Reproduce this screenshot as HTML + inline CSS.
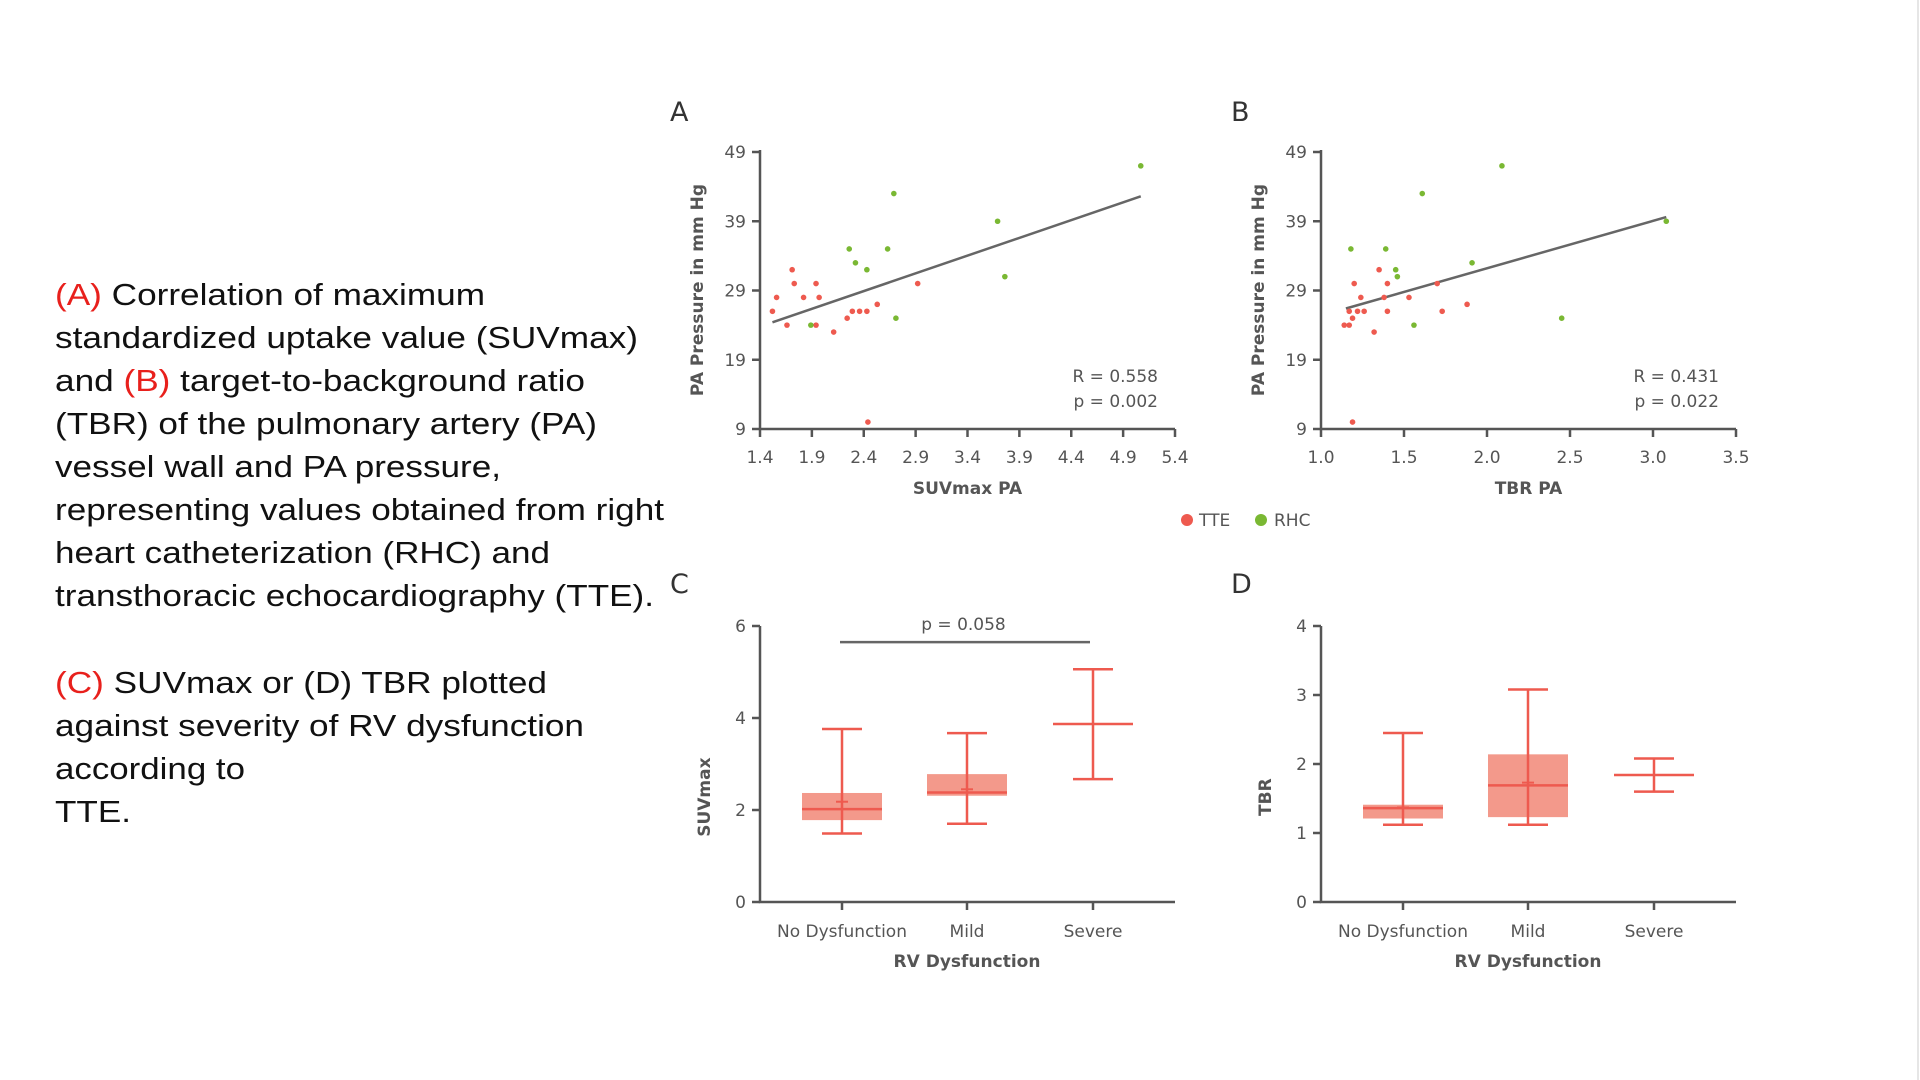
<!DOCTYPE html>
<html><head><meta charset="utf-8">
<style>
html,body{margin:0;padding:0;background:#fff;}
svg{display:block;}
.cap{font-family:"Liberation Sans",Arial,sans-serif;font-size:31px;fill:#111;}
.red{fill:#e8201c;}
.ax{stroke:#555;stroke-width:2.5;fill:none;}
.tk{font-family:"DejaVu Sans","Liberation Sans",sans-serif;font-size:17px;fill:#555;}
.ttl{font-family:"DejaVu Sans","Liberation Sans",sans-serif;font-size:17px;font-weight:bold;fill:#555;}
.lt{font-family:"DejaVu Sans","Liberation Sans",sans-serif;font-size:27px;fill:#333;}
</style></head>
<body>
<svg id="fig" width="1920" height="1080" viewBox="0 0 1920 1080">
<line x1="1918" y1="0" x2="1918" y2="1080" stroke="#e6e6e6" stroke-width="2"/>
<g>
<text class="cap" x="55" y="305" textLength="430" lengthAdjust="spacingAndGlyphs"><tspan class="red">(A)</tspan> Correlation of maximum</text>
<text class="cap" x="55" y="348" textLength="583" lengthAdjust="spacingAndGlyphs">standardized uptake value (SUVmax)</text>
<text class="cap" x="55" y="391" textLength="530" lengthAdjust="spacingAndGlyphs">and <tspan class="red">(B)</tspan> target-to-background ratio</text>
<text class="cap" x="55" y="434" textLength="542" lengthAdjust="spacingAndGlyphs">(TBR) of the pulmonary artery (PA)</text>
<text class="cap" x="55" y="477" textLength="446" lengthAdjust="spacingAndGlyphs">vessel wall and PA pressure,</text>
<text class="cap" x="55" y="520" textLength="609" lengthAdjust="spacingAndGlyphs">representing values obtained from right</text>
<text class="cap" x="55" y="563" textLength="495" lengthAdjust="spacingAndGlyphs">heart catheterization (RHC) and</text>
<text class="cap" x="55" y="606" textLength="599" lengthAdjust="spacingAndGlyphs">transthoracic echocardiography (TTE).</text>
<text class="cap" x="55" y="693" textLength="492" lengthAdjust="spacingAndGlyphs"><tspan class="red">(C)</tspan> SUVmax or (D) TBR plotted</text>
<text class="cap" x="55" y="736" textLength="529" lengthAdjust="spacingAndGlyphs">against severity of RV dysfunction</text>
<text class="cap" x="55" y="779" textLength="190" lengthAdjust="spacingAndGlyphs">according to</text>
<text class="cap" x="55" y="822" textLength="76" lengthAdjust="spacingAndGlyphs">TTE.</text>
</g>
<g id="plots"></g>
</svg>
<script>
// ---- Panel A data ----
const aTteX = [1.52,1.56,1.66,1.71,1.73,1.82,1.94,1.94,1.97,2.11,2.24,2.29,2.36,2.43,2.53,2.92,2.44];
const aTteY = [26,28,24,32,30,28,30,24,28,23,25,26,26,26,27,30,10];
const aRhcX = [1.89,2.26,2.32,2.43,2.63,2.69,2.71,3.69,3.76,5.07];
const aRhcY = [24,35,33,32,35,43,25,39,31,47];
const aFitX = [1.52,5.07];
const aFitY = [24.4,42.6];
const aXTicks = [1.4,1.9,2.4,2.9,3.4,3.9,4.4,4.9,5.4];
// ---- Panel B data ----
const bTteX = [1.14,1.17,1.17,1.19,1.20,1.22,1.24,1.26,1.32,1.35,1.38,1.40,1.40,1.53,1.70,1.73,1.88,1.19];
const bTteY = [24,24,26,25,30,26,28,26,23,32,28,30,26,28,30,26,27,10];
const bRhcX = [1.18,1.39,1.45,1.46,1.56,1.61,1.91,2.09,2.45,3.08];
const bRhcY = [35,35,32,31,24,43,33,47,25,39];
const bFitX = [1.15,3.08];
const bFitY = [26.4,39.6];
const bXTicks = [1.0,1.5,2.0,2.5,3.0,3.5];
const bXLabels = ["1.0","1.5","2.0","2.5","3.0","3.5"];
const pYTicks = [9,19,29,39,49];
// ---- Panel C/D data ----
const categories = ["No Dysfunction","Mild","Severe"];
const cWhiskLo = [1.49,1.70,2.67];
const cQ1 = [1.78,2.31,null];
const cMedian = [2.02,2.38,3.87];
const cQ3 = [2.37,2.78,null];
const cWhiskHi = [3.76,3.67,5.06];
const cMean = [2.18,2.45,null];
const cYTicks = [0,2,4,6];
const dWhiskLo = [1.12,1.12,1.60];
const dQ1 = [1.21,1.23,null];
const dMedian = [1.36,1.69,1.84];
const dQ3 = [1.41,2.14,null];
const dWhiskHi = [2.45,3.08,2.08];
const dMean = [1.37,1.73,null];
const dYTicks = [0,1,2,3,4];

const NS="http://www.w3.org/2000/svg";
const root=document.getElementById('plots');
function mk(tag,attrs,parent,txt){const e=document.createElementNS(NS,tag);for(const k in attrs)e.setAttribute(k,attrs[k]);if(txt!==undefined)e.textContent=txt;(parent||root).appendChild(e);return e;}
function lin(d0,d1,r0,r1){return v=>r0+(v-d0)/(d1-d0)*(r1-r0);}
const RED="#ee5a4f", GREEN="#7ab833", FILL="#f3998b";

function scatter(px0,px1,xmin,xmax,xt,xl,xtitle,tteX,tteY,rhcX,rhcY,fitX,fitY,rtxt,ptxt,letter){
  const g=mk('g',{});
  
  
  const x=lin(xmin,xmax,px0,px1), y=lin(9,49,429,152);
  const L=mk('text',{x:px0-90,y:121,class:'lt'},g,letter);
  
  const ax=mk('path',{d:`M${px0},150 V429 H${px1}`,class:'ax'},g);
  
  pYTicks.forEach(v=>{mk('line',{x1:px0-8,x2:px0,y1:y(v),y2:y(v),class:'ax'},g);
    const t=mk('text',{x:px0-14,y:y(v)+6,class:'tk','text-anchor':'end'},g,String(v));
    });
  xt.forEach((v,i)=>{mk('line',{x1:x(v),x2:x(v),y1:429,y2:437,class:'ax'},g);
    const t=mk('text',{x:x(v),y:463,class:'tk','text-anchor':'middle'},g,xl?xl[i]:String(v));
    });
  const yt=mk('text',{x:0,y:0,class:'ttl','text-anchor':'middle',transform:`translate(${px0-57},290) rotate(-90)`},g,'PA Pressure in mm Hg');
  
  const xtt=mk('text',{x:(px0+px1)/2,y:494,class:'ttl','text-anchor':'middle'},g,xtitle);
  
  const fl=mk('line',{x1:x(fitX[0]),y1:y(fitY[0]),x2:x(fitX[1]),y2:y(fitY[1]),stroke:'#666','stroke-width':2.5},g);
  
  tteX.forEach((v,i)=>{const c=mk('circle',{cx:x(v),cy:y(tteY[i]),r:2.8,fill:RED},g);
    });
  rhcX.forEach((v,i)=>{const c=mk('circle',{cx:x(v),cy:y(rhcY[i]),r:2.8,fill:GREEN},g);
    });
  const r=mk('text',{x:px1-17,y:382,class:'tk','text-anchor':'end'},g,rtxt);
  
  const p=mk('text',{x:px1-17,y:407,class:'tk','text-anchor':'end'},g,ptxt);
  
}
scatter(760,1175,1.4,5.4,aXTicks,null,'SUVmax PA',aTteX,aTteY,aRhcX,aRhcY,aFitX,aFitY,'R = 0.558','p = 0.002','A');
scatter(1321,1736,1.0,3.5,bXTicks,bXLabels,'TBR PA',bTteX,bTteY,bRhcX,bRhcY,bFitX,bFitY,'R = 0.431','p = 0.022','B');

// legend
const lg=mk('g',{});

const l1=mk('circle',{cx:1187,cy:520,r:6,fill:RED},lg);

const l2=mk('text',{x:1199,y:526,class:'tk'},lg,'TTE');

const l3=mk('circle',{cx:1261,cy:520,r:6,fill:GREEN},lg);

const l4=mk('text',{x:1274,y:526,class:'tk'},lg,'RHC');


function boxplot(px0,px1,ymax,yt,title,lo,q1,med,q3,hi,mean,letter,cats){
  const g=mk('g',{});
  
  
  const y=lin(0,ymax,902,626);
  const cx=[px0+82,px0+207,px0+333];
  const L=mk('text',{x:px0-90,y:593,class:'lt'},g,letter);
  
  const ax=mk('path',{d:`M${px0},626 V902 H${px1}`,class:'ax'},g);
  
  yt.forEach(v=>{mk('line',{x1:px0-8,x2:px0,y1:y(v),y2:y(v),class:'ax'},g);
    const t=mk('text',{x:px0-14,y:y(v)+6,class:'tk','text-anchor':'end'},g,String(v));
    });
  const ytt=mk('text',{x:0,y:0,class:'ttl','text-anchor':'middle',transform:`translate(${px0-50},${y(ymax*0.38)}) rotate(-90)`},g,title);
  
  const xtt=mk('text',{x:px0+207,y:967,class:'ttl','text-anchor':'middle'},g,'RV Dysfunction');
  
  cats.forEach((c,i)=>{
    mk('line',{x1:cx[i],x2:cx[i],y1:902,y2:910,class:'ax'},g);
    const t=mk('text',{x:cx[i],y:937,class:'tk','text-anchor':'middle'},g,c);
    
    const sg=mk('g',{},g);
    
    
    if(q1[i]!==null){
      mk('rect',{x:cx[i]-40,y:y(q3[i]),width:80,height:y(q1[i])-y(q3[i]),fill:FILL},sg);
    }
    mk('line',{x1:cx[i],x2:cx[i],y1:y(hi[i]),y2:y(lo[i]),stroke:RED,'stroke-width':2.5},sg);
    mk('line',{x1:cx[i]-20,x2:cx[i]+20,y1:y(hi[i]),y2:y(hi[i]),stroke:RED,'stroke-width':2.5},sg);
    mk('line',{x1:cx[i]-20,x2:cx[i]+20,y1:y(lo[i]),y2:y(lo[i]),stroke:RED,'stroke-width':2.5},sg);
    mk('line',{x1:cx[i]-40,x2:cx[i]+40,y1:y(med[i]),y2:y(med[i]),stroke:RED,'stroke-width':2.5},sg);
    if(mean[i]!==null) mk('line',{x1:cx[i]-6,x2:cx[i]+6,y1:y(mean[i]),y2:y(mean[i]),stroke:RED,'stroke-width':2},sg);
  });
  return {cx,y,g};
}
const C=boxplot(760,1175,6,cYTicks,'SUVmax',cWhiskLo,cQ1,cMedian,cQ3,cWhiskHi,cMean,'C',categories);
const sig=mk('line',{x1:C.cx[0]-2,x2:C.cx[2]-3,y1:C.y(5.65),y2:C.y(5.65),stroke:'#666','stroke-width':2.5},C.g);

const st=mk('text',{x:(C.cx[0]+C.cx[2])/2-4,y:C.y(5.65)-12,class:'tk','text-anchor':'middle'},C.g,'p = 0.058');

boxplot(1321,1736,4,dYTicks,'TBR',dWhiskLo,dQ1,dMedian,dQ3,dWhiskHi,dMean,'D',categories);
</script>
</body></html>
